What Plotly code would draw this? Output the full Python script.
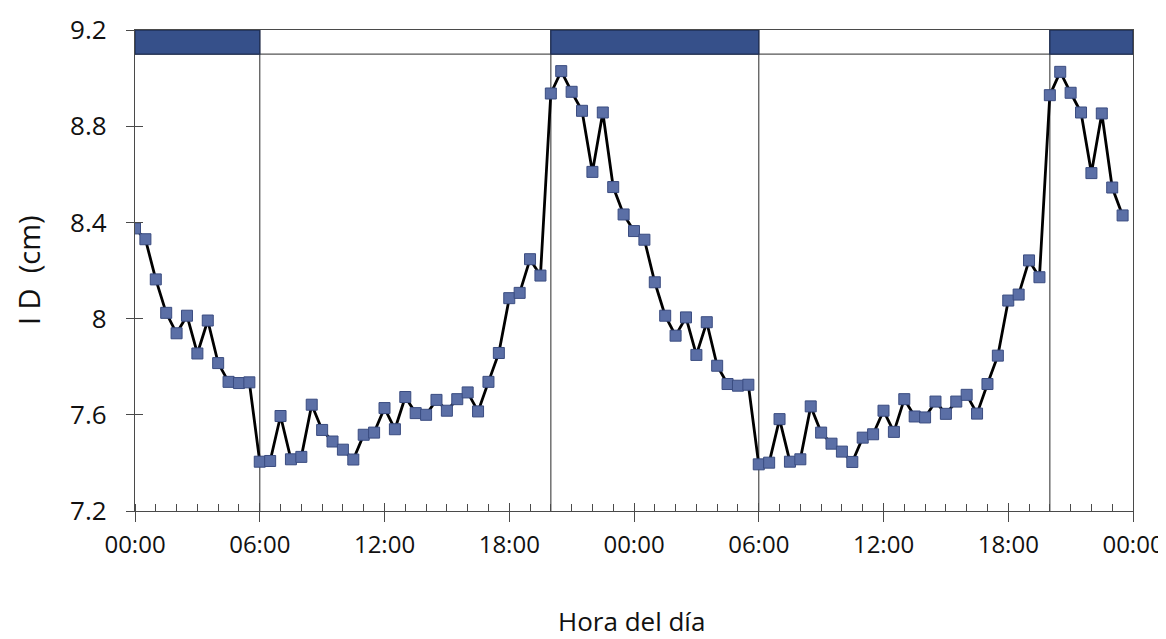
import plotly.graph_objects as go

# Time in hours since start (two days, every 30 min)
hours = [i * 0.5 for i in range(96)]

id_cm = [
    8.375, 8.330, 8.163, 8.024, 7.939, 8.012, 7.855, 7.992, 7.815, 7.737, 7.732, 7.735,
    7.405, 7.408, 7.595, 7.415, 7.425, 7.642, 7.537, 7.489, 7.455, 7.414, 7.517, 7.526,
    7.628, 7.540, 7.674, 7.607, 7.600, 7.662, 7.617, 7.665, 7.693, 7.614, 7.737, 7.857,
    8.085, 8.107, 8.247, 8.179, 8.936, 9.029, 8.943, 8.864, 8.610, 8.857, 8.547, 8.433,
    8.364, 8.328, 8.151, 8.012, 7.929, 8.005, 7.849, 7.985, 7.804, 7.728, 7.721, 7.725,
    7.394, 7.401, 7.582, 7.405, 7.415, 7.635, 7.526, 7.480, 7.447, 7.404, 7.505, 7.519,
    7.617, 7.529, 7.665, 7.593, 7.589, 7.655, 7.604, 7.655, 7.683, 7.605, 7.728, 7.846,
    8.075, 8.100, 8.242, 8.172, 8.929, 9.026, 8.939, 8.857, 8.605, 8.853, 8.545, 8.429,
]

x_tickvals = [0, 6, 12, 18, 24, 30, 36, 42, 48]
x_ticktext = ["00:00", "06:00", "12:00", "18:00", "00:00", "06:00", "12:00", "18:00", "00:00"]
y_tickvals = [7.2, 7.6, 8.0, 8.4, 8.8, 9.2]
y_ticktext = ["7.2", "7.6", "8", "8.4", "8.8", "9.2"]

night_start = [0, 20, 44]
night_end = [6, 30, 48]
band_low, band_high = 9.1, 9.2

x_min, x_max = 0, 48
y_min, y_max = 7.2, 9.2

x_title = "Hora del día"
y_title = "I D  (cm)"

font_family = "Open Sans, DejaVu Sans, sans-serif"
axis_color = "#4a4a4a"

fig = go.Figure()
fig.add_trace(go.Scatter(
    x=hours, y=id_cm, mode="lines+markers",
    line=dict(color="#000000", width=2.8),
    marker=dict(symbol="square", size=11, color="#5b6fa6",
                line=dict(color="#3a4c80", width=1)),
    showlegend=False, hoverinfo="x+y",
))

shapes = []
shapes.append(dict(type="line", xref="x", yref="y", x0=x_min, x1=x_max,
                   y0=band_low, y1=band_low, line=dict(color="#555555", width=1.3)))
for s, e in zip(night_start, night_end):
    shapes.append(dict(type="rect", xref="x", yref="y", x0=s, x1=e,
                       y0=band_low, y1=band_high, fillcolor="#36508a",
                       line=dict(color="#1f2f55", width=1.3), layer="above"))
for b in sorted(set(night_start + night_end)):
    if x_min < b < x_max:
        shapes.append(dict(type="line", xref="x", yref="y", x0=b, x1=b,
                           y0=y_min, y1=y_max, line=dict(color="#5a5a5a", width=1.3),
                           layer="below"))

# the page body has an 8 px default margin, so the figure is sized to fit the window
fig.update_layout(
    width=1158, height=631,
    margin=dict(l=127, r=33, t=22, b=128),
    paper_bgcolor="white", plot_bgcolor="white",
    shapes=shapes,
    font=dict(family=font_family, color="#111111"),
    xaxis=dict(
        range=[x_min, x_max], tickvals=x_tickvals, ticktext=x_ticktext,
        ticks="outside", ticklen=10, tickwidth=1.3, tickcolor=axis_color,
        showline=True, linecolor=axis_color, linewidth=1.3, mirror=True,
        showgrid=False, zeroline=False, automargin=False,
        tickfont=dict(size=24, color="#111111"),
        ticklabelstandoff=2, ticklabeloverflow="allow",
        minor=dict(dtick=1, ticks="inside", ticklen=7, tickwidth=1, tickcolor=axis_color,
                   showgrid=False),
    ),
    yaxis=dict(
        range=[y_min, y_max], tickvals=y_tickvals, ticktext=y_ticktext,
        ticks="outside", ticklen=8, tickwidth=1.3, tickcolor=axis_color,
        showline=True, linecolor=axis_color, linewidth=1.3, mirror=True,
        showgrid=False, zeroline=False, automargin=False,
        tickfont=dict(size=26, color="#111111"),
        ticklabelstandoff=14, ticklabeloverflow="allow",
    ),
    xaxis2=dict(
        range=[x_min, x_max], overlaying="x", tickvals=x_tickvals,
        ticks="inside", ticklen=8, tickwidth=1.3, tickcolor=axis_color,
        showticklabels=False, showgrid=False, zeroline=False, showline=False,
        side="bottom", anchor="y", automargin=False,
    ),
    yaxis2=dict(
        range=[y_min, y_max], overlaying="y", tickvals=y_tickvals[:-1],
        ticks="inside", ticklen=8, tickwidth=1.3, tickcolor=axis_color,
        showticklabels=False, showgrid=False, zeroline=False, showline=False,
        side="left", anchor="x", automargin=False,
    ),
    annotations=[
        dict(text=x_title, xref="paper", yref="paper", x=0.497, y=-0.2287,
             xanchor="center", yanchor="middle", showarrow=False,
             font=dict(size=26, color="#111111")),
        dict(text=y_title, xref="paper", yref="paper", x=-0.1072, y=0.501,
             xanchor="center", yanchor="middle", showarrow=False, textangle=-90,
             font=dict(size=29, color="#111111")),
    ],
)
fig.add_trace(go.Scatter(x=[x_min], y=[y_min], xaxis="x2", yaxis="y2",
                         mode="markers", marker=dict(opacity=0), showlegend=False,
                         hoverinfo="skip"))

fig.write_html("out.html")
